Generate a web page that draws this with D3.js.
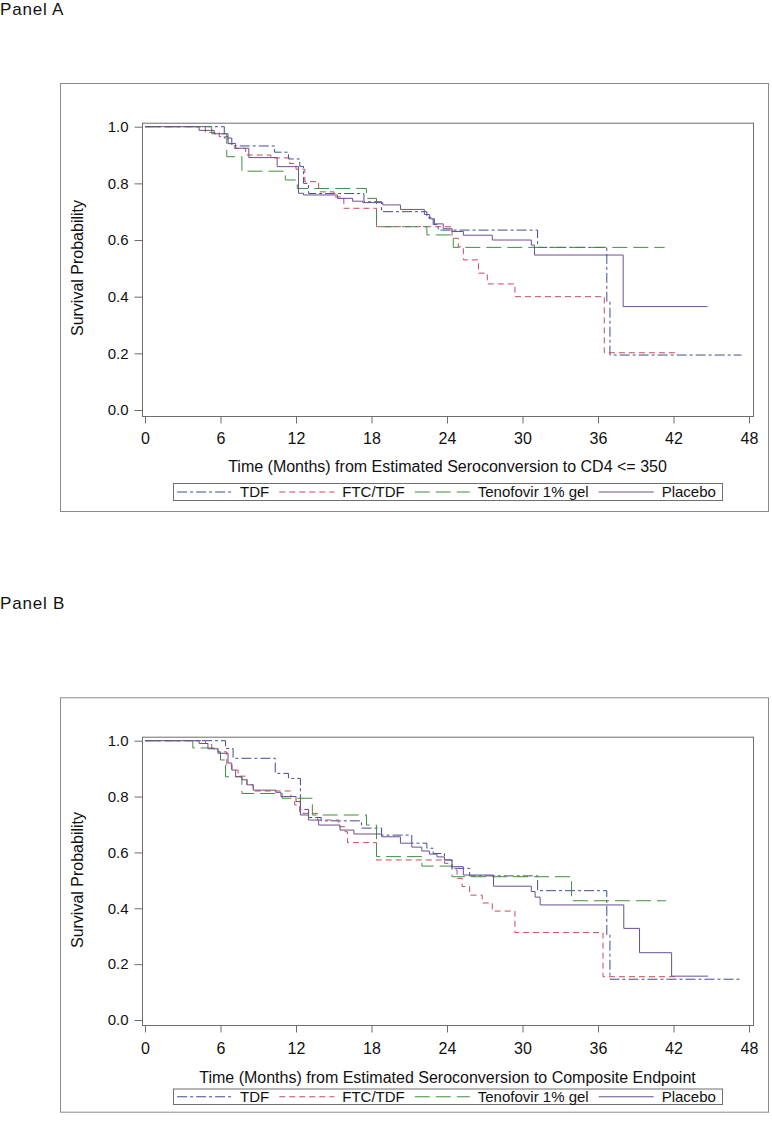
<!DOCTYPE html>
<html><head><meta charset="utf-8">
<script src="https://cdn.jsdelivr.net/npm/d3@7"></script>
<style>
body{margin:0;background:#fff}
svg{display:block}
text{font-family:"Liberation Sans",Arial,Helvetica,sans-serif;fill:#111}
</style>
</head><body>
<svg id="chart" width="772" height="1126"></svg>
<script>
// ---------- data ----------
const seriesNames = ["TDF", "FTC/TDF", "Tenofovir 1% gel", "Placebo"];
const xTicks = [0, 6, 12, 18, 24, 30, 36, 42, 48];
const yTicks = [0, 0.2, 0.4, 0.6, 0.8, 1.0];
const panelTitles = ["Panel A", "Panel B"];
const xAxisTitles = [
  "Time (Months) from Estimated Seroconversion to CD4 <= 350",
  "Time (Months) from Estimated Seroconversion to Composite Endpoint"
];
const yAxisTitle = "Survival Probability";

// Panel A (months, survival probability)
const aTdfTime = [0, 6.3, 6.9, 10.3, 11.4, 12.3, 12.6, 13.0, 17.4, 18.8, 22.4, 22.9, 23.3, 31.2, 36.7, 36.95, 47.4];
const aTdfSurv = [1.0, 0.96, 0.932, 0.91, 0.886, 0.86, 0.80, 0.764, 0.735, 0.70, 0.68, 0.655, 0.635, 0.574, 0.383, 0.194, 0.194];
const aFtcTime = [0, 4.8, 5.9, 6.6, 7.1, 8.0, 10.0, 11.5, 12.0, 12.7, 13.8, 15.0, 15.8, 18.4, 24.4, 24.9, 25.3, 26.5, 27.2, 29.4, 36.5, 42.3];
const aFtcSurv = [1.0, 0.98, 0.965, 0.94, 0.923, 0.90, 0.89, 0.87, 0.85, 0.806, 0.77, 0.752, 0.712, 0.647, 0.606, 0.576, 0.53, 0.483, 0.445, 0.40, 0.202, 0.202];
const aGelTime = [0, 5.3, 6.5, 7.7, 11.15, 12.1, 17.6, 18.4, 22.4, 24.5, 41.3];
const aGelSurv = [1.0, 0.975, 0.894, 0.843, 0.812, 0.782, 0.747, 0.647, 0.618, 0.574, 0.574];
const aPlaTime = [0, 4.3, 5.5, 6.6, 7.2, 8.25, 10.5, 12.2, 12.6, 15.3, 16.5, 17.3, 18.9, 20.3, 22.2, 22.6, 23.0, 23.7, 24.4, 25.3, 27.6, 30.7, 30.95, 38.0, 44.7];
const aPlaSurv = [1.0, 0.987, 0.975, 0.941, 0.924, 0.891, 0.859, 0.765, 0.759, 0.747, 0.737, 0.732, 0.724, 0.708, 0.69, 0.675, 0.657, 0.64, 0.63, 0.617, 0.60, 0.582, 0.547, 0.365, 0.365];

// Panel B
const bTdfTime = [0, 6.4, 7.0, 10.35, 11.4, 12.35, 13.0, 14.0, 17.2, 18.8, 21.2, 22.4, 22.9, 23.8, 24.4, 25.8, 31.2, 36.7, 36.95, 47.3];
const bTdfSurv = [1.0, 0.972, 0.937, 0.883, 0.865, 0.754, 0.725, 0.713, 0.687, 0.662, 0.633, 0.615, 0.596, 0.573, 0.543, 0.516, 0.463, 0.305, 0.146, 0.146];
const bFtcTime = [0, 4.8, 5.3, 5.8, 6.5, 6.9, 7.4, 8.1, 8.6, 11.6, 11.9, 12.3, 13.7, 15.4, 15.9, 16.1, 18.4, 23.8, 24.4, 24.8, 25.2, 25.8, 26.8, 27.6, 29.4, 36.4, 42.4];
const bFtcSurv = [1.0, 0.99, 0.972, 0.96, 0.913, 0.895, 0.873, 0.842, 0.82, 0.80, 0.77, 0.74, 0.716, 0.692, 0.674, 0.635, 0.573, 0.561, 0.537, 0.507, 0.478, 0.447, 0.419, 0.39, 0.313, 0.155, 0.155];
const bGelTime = [0, 3.8, 5.5, 6.0, 6.4, 7.7, 10.9, 13.3, 17.6, 18.4, 22.0, 24.4, 33.9, 41.4];
const bGelSurv = [1.0, 0.974, 0.96, 0.931, 0.871, 0.811, 0.794, 0.734, 0.698, 0.585, 0.551, 0.513, 0.427, 0.427];
const bPlaTime = [0, 4.3, 5.0, 5.8, 6.6, 6.9, 7.2, 7.7, 8.1, 8.6, 10.4, 10.8, 12.0, 12.35, 13.0, 13.8, 15.5, 16.6, 18.8, 20.3, 21.2, 22.0, 22.6, 23.2, 23.8, 24.4, 25.3, 27.7, 30.7, 31.0, 31.4, 38.05, 39.3, 41.85, 44.75];
const bPlaSurv = [1.0, 0.99, 0.971, 0.955, 0.92, 0.895, 0.871, 0.86, 0.842, 0.823, 0.815, 0.80, 0.782, 0.734, 0.716, 0.698, 0.68, 0.666, 0.656, 0.633, 0.619, 0.605, 0.594, 0.584, 0.573, 0.549, 0.519, 0.479, 0.46, 0.44, 0.412, 0.328, 0.241, 0.157, 0.157];

// ---------- styles ----------
const seriesColors = ["#3f4d95", "#c44a5e", "#3f8f3f", "#6c4f8f"];
const seriesDash = ["10,3,3,3", "6,4", "15,6", null];

// ---------- layout ----------
const layouts = [
  { labelY: 15, outer: [60, 83, 768, 511], frame: [142, 122.7, 753, 416], y1: 126.7, y0: 410,
    tickPad: 9, titleY: 471.5, legend: [483, 500], yTitleY: 268 },
  { labelY: 609, outer: [60, 697.3, 768, 1111.7], frame: [142, 736.7, 753, 1025], y1: 740.7, y0: 1020,
    tickPad: 10, titleY: 1082.5, legend: [1088.5, 1104], yTitleY: 880 }
];

const panels = [
  [[aTdfTime, aTdfSurv], [aFtcTime, aFtcSurv], [aGelTime, aGelSurv], [aPlaTime, aPlaSurv]],
  [[bTdfTime, bTdfSurv], [bFtcTime, bFtcSurv], [bGelTime, bGelSurv], [bPlaTime, bPlaSurv]]
];

const svg = d3.select("#chart");
const x = d3.scaleLinear().domain([0, 48]).range([145, 749]);
const axisColor = "#6e6e6e";
const fontFam = '"Liberation Sans",Arial,sans-serif';

panels.forEach((series, pi) => {
  const L = layouts[pi];
  const g = svg.append("g");
  const y = d3.scaleLinear().domain([0, 1]).range([L.y0, L.y1]);

  g.append("text").attr("x", 0).attr("y", L.labelY)
    .attr("font-size", 17).attr("letter-spacing", 0.8).text(panelTitles[pi]);

  // outer frame
  g.append("rect").attr("x", L.outer[0] + 0.5).attr("y", L.outer[1] + 0.5)
    .attr("width", L.outer[2] - L.outer[0]).attr("height", L.outer[3] - L.outer[1])
    .attr("fill", "none").attr("stroke", "#8a8a8a").attr("stroke-width", 1);

  // plot frame
  const [fx0, fy0, fx1, fy1] = L.frame;
  g.append("rect").attr("x", fx0 + 0.5).attr("y", fy0 + 0.5)
    .attr("width", fx1 - fx0).attr("height", fy1 - fy0)
    .attr("fill", "none").attr("stroke", axisColor).attr("stroke-width", 1);

  // x axis
  const xa = g.append("g").attr("transform", `translate(0,${fy1 + 0.5})`)
    .call(d3.axisBottom(x).tickValues(xTicks).tickFormat(d3.format("d")).tickSize(7).tickPadding(L.tickPad));
  xa.select(".domain").remove();
  xa.selectAll("line").attr("stroke", axisColor);
  xa.selectAll("text").attr("font-size", 16).attr("fill", "#111").attr("font-family", fontFam);

  // y axis
  const ya = g.append("g").attr("transform", `translate(${fx0 + 0.5},0)`)
    .call(d3.axisLeft(y).tickValues(yTicks).tickFormat(d3.format(".1f")).tickSize(8).tickPadding(6));
  ya.select(".domain").remove();
  ya.selectAll("line").attr("stroke", axisColor);
  ya.selectAll("text").attr("font-size", 15).attr("fill", "#111").attr("font-family", fontFam);

  // axis titles
  g.append("text").attr("x", (fx0 + fx1) / 2).attr("y", L.titleY)
    .attr("text-anchor", "middle").attr("font-size", 16).text(xAxisTitles[pi]);
  g.append("text").attr("transform", `translate(83,${L.yTitleY}) rotate(-90)`)
    .attr("text-anchor", "middle").attr("font-size", 16).text(yAxisTitle);

  // curves
  const line = d3.line().x(d => x(d[0])).y(d => y(d[1])).curve(d3.curveStepAfter);
  series.forEach((s, si) => {
    const pts = s[0].map((t, i) => [t, s[1][i]]);
    g.append("path").datum(pts).attr("d", line)
      .attr("fill", "none").attr("stroke", seriesColors[si]).attr("stroke-width", 1)
      .attr("stroke-dasharray", seriesDash[si]);
  });

  // legend
  const legendBox = g.append("rect");
  const lg = g.append("g");
  const sampleLen = 55, gapText = 8, gapEntry = 10, padL = 4, padR = 6;
  let cx = 0;
  seriesNames.forEach((name, si) => {
    const eg = lg.append("g");
    eg.append("line").attr("x1", cx).attr("x2", cx + sampleLen)
      .attr("y1", 0).attr("y2", 0)
      .attr("stroke", seriesColors[si]).attr("stroke-width", 1).attr("stroke-dasharray", seriesDash[si]);
    const t = eg.append("text").attr("x", cx + sampleLen + gapText).attr("y", 0).attr("dy", "0.35em")
      .attr("font-size", 15).text(name);
    const w = t.node().getComputedTextLength();
    cx += sampleLen + gapText + w + (si < seriesNames.length - 1 ? gapEntry : 0);
  });
  const totalW = padL + cx + padR;
  const bx = (fx0 + fx1) / 2 - totalW / 2;
  const [ly0, ly1] = L.legend;
  lg.attr("transform", `translate(${bx + padL},${(ly0 + ly1) / 2 + 0.5})`);
  legendBox.attr("x", Math.round(bx) + 0.5).attr("y", ly0 + 0.5)
    .attr("width", Math.round(totalW)).attr("height", ly1 - ly0)
    .attr("fill", "none").attr("stroke", "#6e6e6e").attr("stroke-width", 1);
});
</script>
</body></html>
